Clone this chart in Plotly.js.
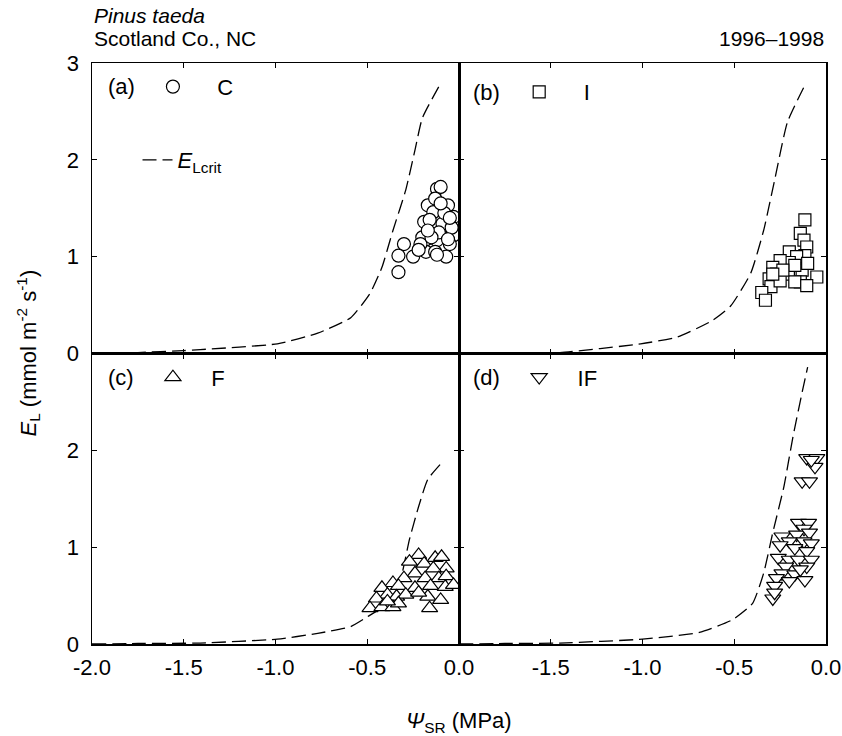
<!DOCTYPE html>
<html>
<head>
<meta charset="utf-8">
<script src="https://cdn.plot.ly/plotly-3.0.1.min.js"></script>
<style>html,body{margin:0;padding:0;background:#fff;}#chart{width:842px;height:736px;}</style>
</head>
<body>
<div id="chart"></div>
<script>
// ---- Data ----
// Critical transpiration curves (E_Lcrit) per panel
const critA_x = [-2.0, -1.75, -1.5, -1.41, -0.99, -0.77, -0.59, -0.485, -0.42, -0.36, -0.29, -0.24, -0.20, -0.10];
const critA_y = [0.0, 0.01, 0.03, 0.04, 0.10, 0.21, 0.37, 0.62, 0.89, 1.27, 1.69, 2.10, 2.43, 2.79];
const critB_x = [-2.0, -1.75, -1.45, -1.01, -0.81, -0.62, -0.52, -0.41, -0.34, -0.28, -0.21, -0.11];
const critB_y = [0.0, 0.005, 0.01, 0.10, 0.17, 0.34, 0.49, 0.83, 1.27, 1.79, 2.39, 2.79];
const critC_x = [-2.0, -1.75, -1.41, -0.99, -0.77, -0.59, -0.50, -0.39, -0.32, -0.27, -0.22, -0.17, -0.09];
const critC_y = [0.0, 0.005, 0.01, 0.05, 0.11, 0.18, 0.28, 0.42, 0.66, 1.08, 1.42, 1.70, 1.88];
const critD_x = [-2.0, -1.75, -1.45, -1.00, -0.69, -0.51, -0.40, -0.34, -0.29, -0.23, -0.18, -0.13, -0.10];
const critD_y = [0.0, 0.005, 0.01, 0.05, 0.12, 0.25, 0.42, 0.73, 1.15, 1.62, 2.14, 2.60, 2.86];

// (a) C – circles
const cX = [-0.12, -0.10, -0.17, -0.06, -0.13, -0.14, -0.03, -0.19, -0.08, -0.14, -0.20, -0.10, -0.03, -0.16, -0.09, -0.30, -0.33, -0.25, -0.33, -0.14, -0.07, -0.18, -0.12, -0.05, -0.21, -0.09, -0.16, -0.04, -0.11, -0.15, -0.06, -0.13, -0.17, -0.08, -0.12, -0.22, -0.05, -0.10];
const cY = [1.70, 1.72, 1.53, 1.53, 1.60, 1.46, 1.41, 1.36, 1.32, 1.31, 1.20, 1.22, 1.22, 1.13, 1.08, 1.13, 1.01, 1.00, 0.84, 1.07, 1.00, 1.05, 1.17, 1.13, 1.13, 1.34, 1.38, 1.30, 1.25, 1.20, 1.18, 1.05, 1.27, 1.45, 1.02, 1.07, 1.40, 1.55];
// (b) I – squares
const iX = [-0.115, -0.14, -0.12, -0.105, -0.20, -0.115, -0.16, -0.20, -0.25, -0.29, -0.205, -0.13, -0.27, -0.31, -0.14, -0.05, -0.30, -0.35, -0.33, -0.17, -0.105, -0.25, -0.17, -0.235, -0.10, -0.29];
const iY = [1.38, 1.24, 1.17, 1.10, 1.05, 1.01, 1.00, 0.94, 0.96, 0.89, 0.82, 0.86, 0.82, 0.77, 0.74, 0.79, 0.69, 0.63, 0.55, 0.74, 0.70, 0.75, 0.91, 0.86, 0.93, 0.82];
// (c) F – triangles
const fX = [-0.22, -0.13, -0.095, -0.27, -0.19, -0.07, -0.14, -0.24, -0.30, -0.185, -0.11, -0.07, -0.36, -0.42, -0.33, -0.24, -0.155, -0.075, -0.03, -0.39, -0.45, -0.34, -0.29, -0.17, -0.10, -0.485, -0.42, -0.36, -0.33, -0.16, -0.22, -0.39];
const fY = [0.92, 0.89, 0.90, 0.85, 0.83, 0.78, 0.78, 0.73, 0.68, 0.68, 0.68, 0.70, 0.63, 0.58, 0.60, 0.58, 0.60, 0.59, 0.61, 0.51, 0.47, 0.49, 0.51, 0.49, 0.455, 0.37, 0.38, 0.38, 0.42, 0.37, 0.53, 0.44];
// (d) IF – inverted triangles
const ifX = [-0.105, -0.05, -0.06, -0.08, -0.13, -0.09, -0.15, -0.095, -0.12, -0.16, -0.09, -0.24, -0.20, -0.12, -0.08, -0.25, -0.17, -0.105, -0.26, -0.20, -0.15, -0.08, -0.22, -0.105, -0.24, -0.17, -0.27, -0.20, -0.115, -0.28, -0.29, -0.28, -0.14];
const ifY = [1.92, 1.92, 1.83, 1.90, 1.68, 1.68, 1.25, 1.25, 1.19, 1.13, 1.15, 1.11, 1.06, 1.06, 1.04, 1.02, 0.99, 0.96, 0.89, 0.87, 0.87, 0.87, 0.80, 0.80, 0.73, 0.72, 0.68, 0.65, 0.66, 0.60, 0.47, 0.53, 0.77];

// Tick labels
const xTickVals = [-2, -1.5, -1, -0.5, 0];
const xTickLeft = ['-2.0', '-1.5', '-1.0', '-0.5', '0.0'];
const xTickRight = ['', '-1.5', '-1.0', '-0.5', '0.0'];
const yTickVals = [0, 1, 2, 3];
const yTickTop = ['0', '1', '2', '3'];
const yTickBottom = ['0', '1', '2', ''];

// ---- Build ----
const FONT = 'Liberation Sans, Arial, sans-serif';
const dashLine = {color: '#000', width: 1.3, dash: '14px,6px', shape: 'spline', smoothing: 0.5};
function mk(symbol, size) {
  return {symbol: symbol, size: size, color: '#fff', line: {color: '#000', width: 1.2}};
}
const traces = [
  {x: critA_x, y: critA_y, xaxis: 'x', yaxis: 'y', mode: 'lines', line: dashLine, name: '<i>E</i><sub>Lcrit</sub>', showlegend: true, legend: 'legend'},
  {x: critB_x, y: critB_y, xaxis: 'x2', yaxis: 'y2', mode: 'lines', line: dashLine, showlegend: false},
  {x: critC_x, y: critC_y, xaxis: 'x3', yaxis: 'y3', mode: 'lines', line: dashLine, showlegend: false},
  {x: critD_x, y: critD_y, xaxis: 'x4', yaxis: 'y4', mode: 'lines', line: dashLine, showlegend: false},
  {x: cX, y: cY, xaxis: 'x', yaxis: 'y', mode: 'markers', marker: mk('circle', 13), name: '\u00a0\u00a0\u00a0\u00a0C', showlegend: true, legend: 'legend2'},
  {x: iX, y: iY, xaxis: 'x2', yaxis: 'y2', mode: 'markers', marker: mk('square', 12), name: '\u00a0\u00a0\u00a0\u00a0I', showlegend: true, legend: 'legend3'},
  {x: fX, y: fY, xaxis: 'x3', yaxis: 'y3', mode: 'markers', marker: mk('triangle-up', 14), name: '\u00a0\u00a0\u00a0F', showlegend: true, legend: 'legend4'},
  {x: ifX, y: ifY, xaxis: 'x4', yaxis: 'y4', mode: 'markers', marker: mk('triangle-down', 14), name: '\u00a0\u00a0\u00a0IF', showlegend: true, legend: 'legend5'}
];

const TICKFONT = {family: FONT, size: 22, color: '#000'};
function xa(dom, anchor, text, show) {
  return {domain: dom, anchor: anchor, range: [-2, 0], tickvals: xTickVals, ticktext: text, showticklabels: show,
    ticks: 'inside', ticklen: 5, tickwidth: 1, tickcolor: '#000', showline: true, linewidth: 1.5, linecolor: '#000',
    mirror: 'ticks', showgrid: false, zeroline: false, tickfont: TICKFONT, ticklabelstandoff: 3};
}
function ya(dom, anchor, text, show) {
  return {domain: dom, anchor: anchor, range: [0, 3], tickvals: yTickVals, ticktext: text, showticklabels: show,
    ticks: 'inside', ticklen: 5, tickwidth: 1, tickcolor: '#000', showline: true, linewidth: 1.5, linecolor: '#000',
    mirror: 'ticks', showgrid: false, zeroline: false, tickfont: TICKFONT, ticklabelstandoff: 7};
}
function lg(x, y) {
  return {x: x, y: y, xanchor: 'left', yanchor: 'middle', bgcolor: 'rgba(0,0,0,0)', borderwidth: 0,
    font: {family: FONT, size: 22, color: '#000'}, itemclick: false, itemdoubleclick: false};
}
const tf = {family: FONT, size: 22, color: '#000'};
const hf = {family: FONT, size: 21, color: '#000'};
const layout = {
  width: 842, height: 736,
  margin: {l: 92, r: 16, t: 63, b: 92},
  paper_bgcolor: '#fff', plot_bgcolor: '#fff',
  font: {family: FONT, color: '#000'},
  xaxis: xa([0, 0.5], 'y', xTickLeft, false),
  yaxis: ya([0.5, 1], 'x', yTickTop, true),
  xaxis2: xa([0.5, 1], 'y2', xTickRight, false),
  yaxis2: ya([0.5, 1], 'x2', yTickTop, false),
  xaxis3: xa([0, 0.5], 'y3', xTickLeft, true),
  yaxis3: ya([0, 0.5], 'x3', yTickBottom, true),
  xaxis4: xa([0.5, 1], 'y4', xTickRight, true),
  yaxis4: ya([0, 0.5], 'x4', yTickTop, false),
  legend: lg(0.062, 0.833),
  legend2: lg(0.083, 0.959),
  legend3: lg(0.582, 0.950),
  legend4: lg(0.083, 0.459),
  legend5: lg(0.582, 0.459),
  annotations: [
    {xref: 'paper', yref: 'paper', x: 0.0, y: 1, yshift: 48, xanchor: 'left', yanchor: 'middle', text: '<i>Pinus taeda</i>', showarrow: false, font: hf},
    {xref: 'paper', yref: 'paper', x: 0.0, y: 1, yshift: 25, xanchor: 'left', yanchor: 'middle', text: 'Scotland Co., NC', showarrow: false, font: hf},
    {xref: 'paper', yref: 'paper', x: 1.0, y: 1, yshift: 25, xanchor: 'right', yanchor: 'middle', text: '1996\u20131998', showarrow: false, font: hf},
    {xref: 'paper', yref: 'paper', x: 0.019, y: 0.959, xanchor: 'left', yanchor: 'middle', text: '(a)', showarrow: false, font: tf},
    {xref: 'paper', yref: 'paper', x: 0.517, y: 0.950, xanchor: 'left', yanchor: 'middle', text: '(b)', showarrow: false, font: tf},
    {xref: 'paper', yref: 'paper', x: 0.019, y: 0.459, xanchor: 'left', yanchor: 'middle', text: '(c)', showarrow: false, font: tf},
    {xref: 'paper', yref: 'paper', x: 0.517, y: 0.459, xanchor: 'left', yanchor: 'middle', text: '(d)', showarrow: false, font: tf},
    {xref: 'paper', yref: 'paper', x: 0, xshift: -64, y: 0.5, xanchor: 'center', yanchor: 'middle', textangle: -90,
     text: '<i>E</i><sub>L</sub> (mmol m<sup>-2</sup> s<sup>-1</sup>)', showarrow: false, font: tf},
    {xref: 'paper', yref: 'paper', x: 0.5, y: 0, yshift: -78, xanchor: 'center', yanchor: 'middle',
     text: '<i>\u03A8</i><sub>SR</sub> (MPa)', showarrow: false, font: tf}
  ]
};
Plotly.newPlot('chart', traces, layout, {staticPlot: true, displayModeBar: false});
</script>
</body>
</html>
